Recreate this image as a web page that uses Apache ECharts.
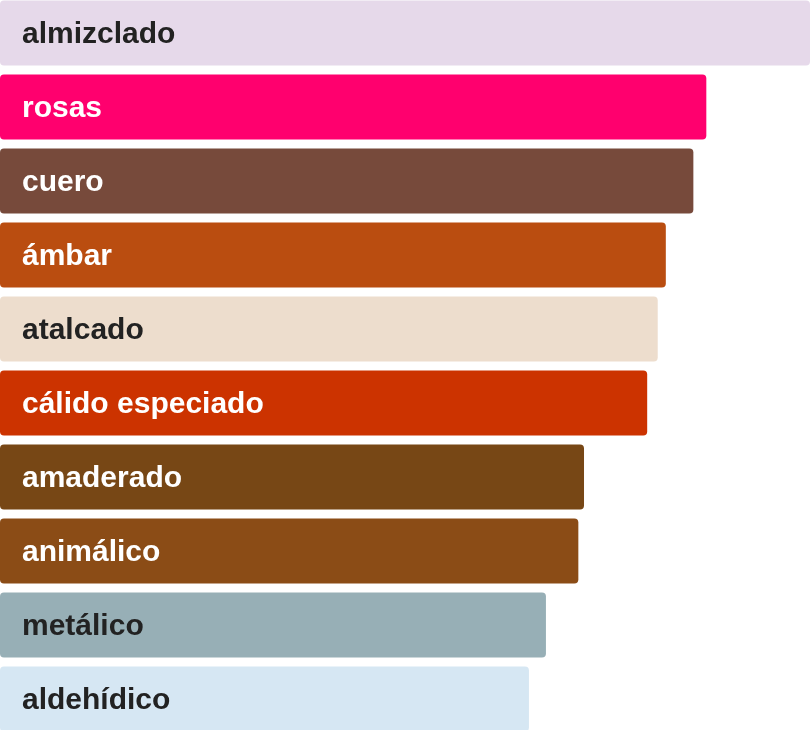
<!DOCTYPE html>
<html>
<head>
    <meta charset="utf-8">
    <title>Notas</title>
    <script src="https://cdn.jsdelivr.net/npm/echarts@6/dist/echarts.min.js"></script>
</head>
<body style="margin:0;overflow:hidden;">
<div id="main" style="position:absolute;top:-4.5px;left:0;width:810px;height:740px;"></div>
<script type="text/javascript">
    // notas de arriba a abajo
    var notas = ['almizclado', 'rosas', 'cuero', 'ámbar', 'atalcado', 'cálido especiado',
        'amaderado', 'animálico', 'metálico', 'aldehídico'];
    var valores = [100, 87.2, 85.6, 82.2, 81.2, 79.9, 72.1, 71.4, 67.4, 65.3];
    var colores = ['#E6D9EA', '#FF006E', '#774A3B', '#BA4D10', '#EDDDCD', '#CC3300',
        '#774715', '#8B4C16', '#97AFB6', '#D6E7F3'];
    var colorTexto = ['#222222', '#ffffff', '#ffffff', '#ffffff', '#222222', '#ffffff',
        '#ffffff', '#ffffff', '#222222', '#222222'];

    var myChart = echarts.init(document.getElementById('main'));

    var datos = valores.map(function (v, i) {
        return {
            value: v,
            itemStyle: {color: colores[i]},
            label: {color: colorTexto[i]}
        };
    });

    myChart.setOption({
        animation: false,
        grid: {left: 0, right: 0, top: 0, bottom: 0, containLabel: false},
        xAxis: {type: 'value', min: 0, max: 100, show: false},
        yAxis: {
            type: 'category',
            data: notas,
            inverse: true,
            show: false
        },
        series: [{
            type: 'bar',
            data: datos,
            barCategoryGap: '12.2%',
            itemStyle: {borderRadius: 4},
            label: {
                show: true,
                position: 'insideLeft',
                distance: 22,
                offset: [0, 1.5],
                formatter: function (p) { return p.name; },
                fontFamily: 'Liberation Sans',
                fontWeight: 'bold',
                fontSize: 30
            }
        }]
    });
</script>
</body>
</html>
